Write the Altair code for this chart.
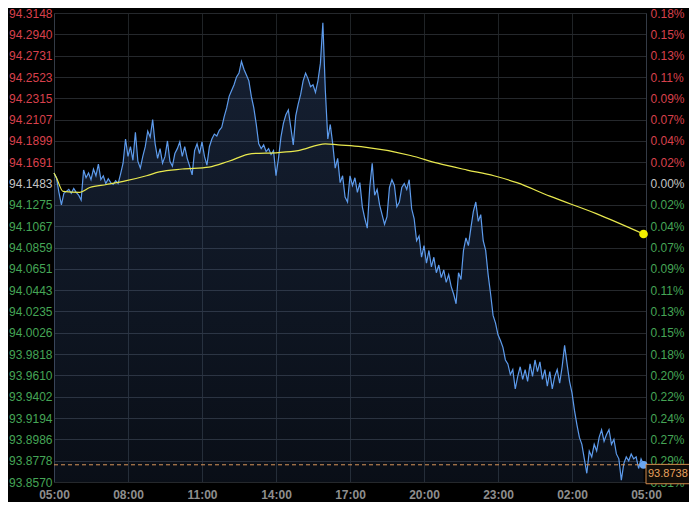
import altair as alt
import pandas as pd

# ---------------- data ----------------
price = [
    94.1587, 94.1540, 94.1398, 94.1275, 94.1388, 94.1407, 94.1426, 94.1388, 94.1436, 94.1398,
    94.1370, 94.1322, 94.1615, 94.1540, 94.1587, 94.1521, 94.1625, 94.1559, 94.1672, 94.1521,
    94.1559, 94.1483, 94.1530, 94.1492, 94.1474, 94.1511, 94.1483, 94.1578, 94.1682, 94.1918,
    94.1748, 94.1843, 94.1710, 94.1984, 94.1701, 94.1634, 94.1748, 94.1843, 94.1994, 94.1937,
    94.2107, 94.1871, 94.1729, 94.1824, 94.1682, 94.1748, 94.1899, 94.1701, 94.1653, 94.1776,
    94.1824, 94.1890, 94.1748, 94.1843, 94.1729, 94.1653, 94.1568, 94.1805, 94.1871, 94.1776,
    94.1890, 94.1748, 94.1663, 94.1843, 94.1918, 94.1966, 94.1947, 94.2003, 94.2032, 94.2136,
    94.2221, 94.2334, 94.2391, 94.2448, 94.2524, 94.2561, 94.2675, 94.2599, 94.2543, 94.2486,
    94.2334, 94.2221, 94.2060, 94.1871, 94.1824, 94.1861, 94.1795, 94.1824, 94.1767, 94.1805,
    94.1559, 94.1729, 94.1937, 94.2070, 94.2155, 94.2202, 94.2032, 94.1861, 94.2145, 94.2259,
    94.2353, 94.2486, 94.2561, 94.2505, 94.2429, 94.2448, 94.2372, 94.2486, 94.2656, 94.3053,
    94.2391, 94.1918, 94.2060, 94.1871, 94.1634, 94.1729, 94.1492, 94.1559, 94.1351, 94.1303,
    94.1559, 94.1464, 94.1540, 94.1398, 94.1492, 94.1256, 94.1142, 94.1048, 94.1445, 94.1682,
    94.1370, 94.1426, 94.1275, 94.1180, 94.1086, 94.1161, 94.1445, 94.1521, 94.1464, 94.1256,
    94.1303, 94.1445, 94.1483, 94.1426, 94.1521, 94.1237, 94.1142, 94.0925, 94.0972, 94.0764,
    94.0878, 94.0707, 94.0830, 94.0669, 94.0764, 94.0613, 94.0688, 94.0565, 94.0641, 94.0518,
    94.0594, 94.0480, 94.0405, 94.0310, 94.0613, 94.0547, 94.0830, 94.0953, 94.0878, 94.1048,
    94.1209, 94.1303, 94.1114, 94.1180, 94.0925, 94.0830, 94.0594, 94.0405, 94.0196, 94.0121,
    94.0007, 93.9951, 93.9884, 93.9761, 93.9723, 93.9619, 93.9667, 93.9478, 93.9601, 93.9695,
    93.9572, 93.9667, 93.9553, 93.9723, 93.9601, 93.9761, 93.9648, 93.9742, 93.9572, 93.9667,
    93.9506, 93.9648, 93.9478, 93.9601, 93.9667, 93.9534, 93.9695, 93.9903, 93.9723, 93.9553,
    93.9440, 93.9269, 93.9128, 93.9005, 93.8938, 93.8796, 93.8655, 93.8872, 93.8815, 93.8938,
    93.8872, 93.9005, 93.9080, 93.8967, 93.9033, 93.9080, 93.8938, 93.8986, 93.8844, 93.8796,
    93.8588, 93.8749, 93.8815, 93.8777, 93.8844, 93.8796, 93.8815, 93.8702, 93.8796, 93.8738,
]
step_minutes = 6
minutes = [i * step_minutes for i in range(len(price))]

avg_minutes = [0, 7, 22, 63, 87, 128, 176, 225, 256, 312, 377, 425, 481, 546, 594,
               660, 691, 747, 867, 933, 1005, 1070, 1126, 1206, 1319, 1434]
avg_price = [94.1587, 94.1530, 94.1407, 94.1398, 94.1445, 94.1474, 94.1511, 94.1559,
             94.1597, 94.1625, 94.1644, 94.1701, 94.1776, 94.1786, 94.1805, 94.1871,
             94.1861, 94.1843, 94.1757, 94.1682, 94.1615, 94.1559, 94.1492, 94.1360,
             94.1190, 94.0991]

ref_price = 94.1483
last_price = 93.8738
last_label = "93.8738"

y_ticks = [94.3148, 94.2940, 94.2731, 94.2523, 94.2315, 94.2107, 94.1899, 94.1691,
           94.1483, 94.1275, 94.1067, 94.0859, 94.0651, 94.0443, 94.0235, 94.0026,
           93.9818, 93.9610, 93.9402, 93.9194, 93.8986, 93.8778, 93.8570]
left_labels = ["94.3148", "94.2940", "94.2731", "94.2523", "94.2315", "94.2107", "94.1899",
               "94.1691", "94.1483", "94.1275", "94.1067", "94.0859", "94.0651", "94.0443",
               "94.0235", "94.0026", "93.9818", "93.9610", "93.9402", "93.9194", "93.8986",
               "93.8778", "93.8570"]
right_labels = ["0.18%", "0.15%", "0.13%", "0.11%", "0.09%", "0.07%", "0.04%", "0.02%",
                "0.00%", "0.02%", "0.04%", "0.07%", "0.09%", "0.11%", "0.13%", "0.15%",
                "0.18%", "0.20%", "0.22%", "0.24%", "0.27%", "0.29%", "0.31%"]
x_ticks = [0, 180, 360, 540, 720, 900, 1080, 1260, 1440]
x_labels = ["05:00", "08:00", "11:00", "14:00", "17:00", "20:00", "23:00", "02:00", "05:00"]

# ---------------- tables ----------------
df = pd.DataFrame({"t": minutes, "p": price})
avg_df = pd.DataFrame({"t": avg_minutes, "p": avg_price})
last_df = pd.DataFrame({"t": [minutes[-1]], "p": [last_price]})
avg_last_df = pd.DataFrame({"t": [avg_minutes[-1]], "p": [avg_price[-1]]})
box_df = pd.DataFrame({"t": [x_ticks[-1]], "top": [last_price + 0.0004],
                       "bot": [last_price - 0.0185], "p": [last_price - 0.0092],
                       "label": [last_label]})

# ---------------- styling ----------------
PAD_L, PAD_R, PAD_T, PAD_B = 46, 43, 5, 20
W, H = 681 - PAD_L - PAD_R, 469
FONT = "Liberation Sans"
RED, GREEN, NEUTRAL = "#d8404c", "#45a556", "#c4c4c4"

y_min, y_max = min(y_ticks), max(y_ticks)
yscale = alt.Scale(domain=[y_min, y_max], nice=False, zero=False)
xscale = alt.Scale(domain=[x_ticks[0], x_ticks[-1]], nice=False, zero=False)

color_expr = (f"datum.value > {ref_price + 0.0005} ? '{RED}' : "
              f"(datum.value < {ref_price - 0.0005} ? '{GREEN}' : '{NEUTRAL}')")

x_axis = alt.Axis(values=x_ticks, labelExpr=f"{x_labels}[indexof({x_ticks}, datum.value)]",
                  title=None, grid=True, gridColor="#1f2326", ticks=False, domain=False,
                  labelColor="#8e8e8e", labelFont=FONT, labelFontSize=12, labelFontWeight="bold",
                  labelPadding=7, labelFlush=False, labelOverlap=False)

left_axis = alt.Axis(orient="left", values=y_ticks,
                     labelExpr=f"{left_labels}[indexof({y_ticks}, datum.value)]",
                     labelColor=alt.ExprRef(expr=color_expr), title=None, grid=True,
                     gridColor="#25282c", ticks=False, domain=True, domainColor="#343b46",
                     labelFont=FONT, labelFontSize=12, labelPadding=2, labelOverlap=False,
                     labelFlush=False)

right_axis = alt.Axis(orient="right", values=y_ticks,
                      labelExpr=f"{right_labels}[indexof({y_ticks}, datum.value)]",
                      labelColor=alt.ExprRef(expr=color_expr), title=None, grid=False,
                      ticks=False, domain=True, domainColor="#343b46",
                      labelFont=FONT, labelFontSize=12, labelPadding=4, labelOverlap=False,
                      labelFlush=False)

gradient = alt.Gradient(
    gradient="linear",
    stops=[alt.GradientStop(color="rgba(80,120,190,0.27)", offset=0),
           alt.GradientStop(color="rgba(80,120,190,0.12)", offset=1)],
    x1=0, x2=0, y1=0, y2=1,
)

X = alt.X("t:Q", scale=xscale, axis=x_axis)
Y = alt.Y("p:Q", scale=yscale, axis=left_axis)

area = alt.Chart(df).mark_area(color=gradient, interpolate="linear").encode(
    x=X, y=Y, y2=alt.datum(y_min))
line = alt.Chart(df).mark_line(color="#5d9bec", strokeWidth=1.2).encode(x=X, y=Y)
avg_line = alt.Chart(avg_df).mark_line(color="#e8e84e", strokeWidth=1.2,
                                      interpolate="monotone").encode(x=X, y=Y)
dash = alt.Chart(last_df).mark_rule(color="#d9955a", strokeDash=[4, 3], strokeWidth=1).encode(
    y=Y)
last_dot = alt.Chart(last_df).mark_circle(color="#6aa6f2", size=60, opacity=1).encode(x=X, y=Y)
avg_dot = alt.Chart(avg_last_df).mark_circle(color="#f2f000", size=75, opacity=1).encode(x=X, y=Y)

left_layer = alt.layer(area, line, avg_line, dash, last_dot, avg_dot)

XR = alt.X("t:Q", scale=xscale, axis=x_axis)
box = alt.Chart(box_df).mark_rect(fill="#120d08", stroke="#d08a4c", strokeWidth=1).encode(
    x=XR, x2=alt.value(W + 60),
    y=alt.Y("top:Q", scale=yscale, axis=right_axis), y2="bot:Q")
box_text = alt.Chart(box_df).mark_text(align="left", dx=2, color="#e8a25e", font=FONT,
                                       fontSize=11).encode(
    x=XR, y=alt.Y("p:Q", scale=yscale, axis=right_axis), text="label:N")

right_layer = alt.layer(box, box_text)

chart = alt.layer(left_layer, right_layer).resolve_scale(y="independent").properties(
    width=W, height=H, background="#000000",
    autosize=alt.AutoSizeParams(type="none"),
    padding={"left": PAD_L, "top": PAD_T, "right": PAD_R, "bottom": PAD_B},
).configure_view(stroke=None)

chart.save("out.html", embed_options={"renderer": "svg", "actions": False})
